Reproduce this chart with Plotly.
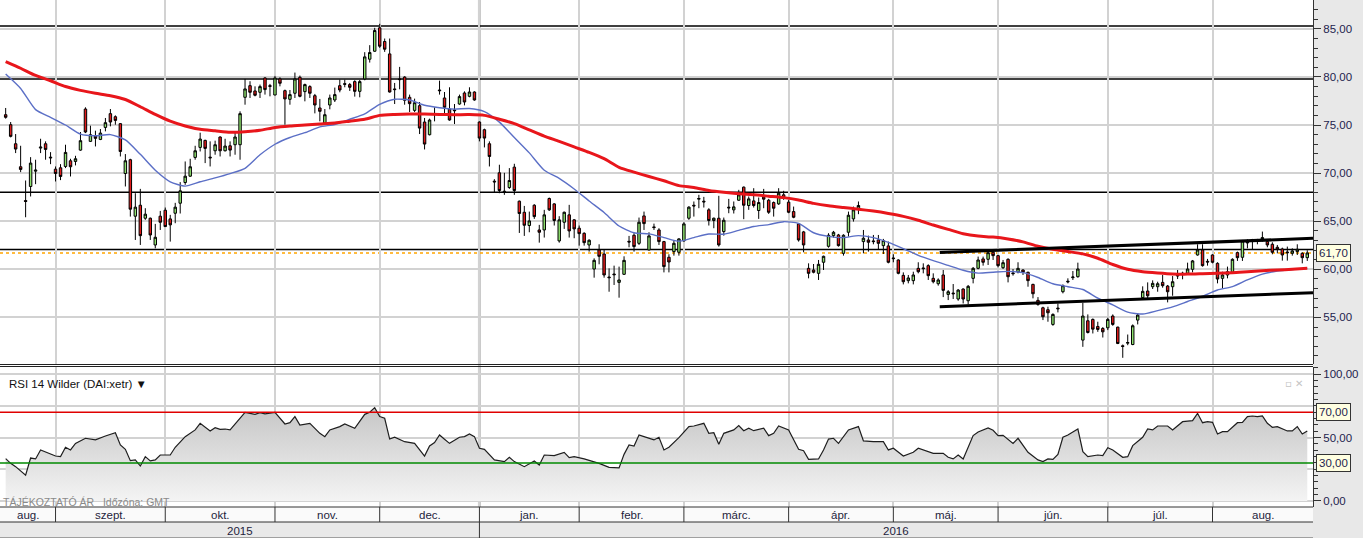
import plotly.graph_objects as go
import pandas as pd

W, H = 1363, 538

# ---------------- data ----------------
holidays = ["2015-12-24", "2015-12-25", "2015-12-31", "2016-01-01",
            "2016-03-25", "2016-03-28", "2016-05-16"]
trading_days = [d for d in pd.bdate_range("2015-08-18", "2016-08-26")
                if d.strftime("%Y-%m-%d") not in holidays]

open_ = [
    76.07, 75.03, 73.05, 70.66, 67.15, 68.61, 70.20, 72.60, 73.05, 71.66,
    70.41, 70.55, 70.69, 71.28, 71.21, 72.39, 76.66, 73.30, 73.85, 73.50,
    74.75, 76.18, 75.86, 75.14, 69.96, 71.39, 65.52, 66.66, 65.31, 65.31,
    62.53, 65.52, 66.14, 65.24, 65.83, 66.87, 69.02, 69.68, 71.63, 72.67,
    73.40, 71.66, 72.32, 73.75, 72.32, 72.84, 72.95, 72.95, 77.88, 79.09,
    78.54, 78.40, 79.89, 79.09, 78.12, 79.79, 78.57, 77.67, 78.30, 79.96,
    78.47, 78.99, 78.05, 76.77, 75.20, 77.08, 77.60, 79.09, 79.30, 79.20,
    79.51, 78.50, 79.79, 81.84, 82.67, 85.10, 83.68, 82.39, 78.75, 79.79,
    79.98, 77.88, 76.52, 77.01, 75.31, 73.99, 76.18, 78.64, 77.81, 76.66,
    76.56, 77.18, 78.33, 77.98, 78.43, 75.31, 74.51, 73.05, 69.16, 70.03,
    68.12, 68.50, 70.62, 67.08, 65.93, 64.55, 66.66, 64.09, 64.09, 67.36,
    66.80, 62.95, 64.89, 65.66, 65.14, 64.27, 63.74, 62.53, 60.03, 62.01,
    61.59, 59.20, 59.51, 58.64, 59.48, 62.91, 63.54, 62.70, 65.55, 62.01,
    64.41, 64.09, 62.88, 61.25, 61.84, 61.77, 62.95, 65.31, 66.66, 67.29,
    67.08, 66.18, 65.07, 65.31, 63.92, 66.46, 66.18, 67.18, 68.54, 66.63,
    67.11, 66.11, 67.50, 67.18, 66.94, 66.80, 67.74, 66.98, 66.00, 64.72,
    63.89, 60.10, 59.93, 59.58, 60.73, 62.39, 63.50, 63.57, 61.66, 63.85,
    65.24, 66.35, 62.88, 63.05, 62.95, 63.05, 62.46, 62.43, 61.18, 60.97,
    59.37, 58.82, 58.82, 60.10, 60.14, 60.38, 59.06, 58.50, 59.41, 57.39,
    57.53, 56.91, 57.95, 56.73, 59.06, 60.10, 61.08, 61.04, 61.77, 61.42,
    60.17, 61.04, 59.62, 59.72, 59.93, 59.69, 58.43, 56.77, 56.00, 55.80,
    54.27, 55.97, 57.67, 58.68, 59.13, 59.23, 52.64, 54.65, 54.79, 54.06,
    53.85, 53.92, 55.14, 53.99, 52.05, 52.32, 52.18, 54.72, 57.05, 57.74,
    58.19, 58.19, 58.64, 58.26, 58.19, 59.30, 59.51, 59.58, 60.00, 61.49,
    62.01, 60.83, 61.49, 60.62, 59.06, 59.41, 59.69, 61.73, 61.25, 62.74,
    63.02, 63.02, 63.05, 62.88, 62.60, 62.29, 62.11, 61.80, 61.66, 61.84,
    61.66, 61.21,
]
high = [
    76.77, 75.31, 74.06, 72.84, 69.23, 71.66, 71.39, 73.57, 73.30, 72.18,
    70.69, 70.93, 72.95, 71.49, 71.80, 74.27, 76.84, 74.93, 74.41, 74.58,
    75.73, 76.66, 76.00, 75.20, 71.98, 71.49, 67.91, 68.36, 66.35, 65.38,
    64.72, 66.07, 66.42, 65.66, 66.91, 69.06, 71.21, 71.49, 72.84, 74.20,
    73.47, 73.30, 73.37, 73.82, 73.57, 73.30, 74.34, 76.42, 79.79, 79.55,
    79.02, 79.20, 79.96, 79.27, 80.10, 79.96, 78.68, 78.64, 80.45, 80.14,
    79.30, 79.13, 78.23, 77.71, 76.66, 78.16, 78.89, 79.72, 79.72, 79.37,
    79.65, 79.68, 82.57, 83.30, 85.10, 85.52, 83.99, 83.99, 79.37, 81.04,
    80.07, 78.16, 77.74, 77.39, 75.73, 75.66, 76.84, 79.61, 78.43, 78.92,
    77.18, 78.16, 78.50, 78.92, 78.50, 75.38, 74.62, 73.30, 69.37, 70.87,
    70.03, 70.52, 70.97, 67.15, 66.59, 66.00, 66.77, 64.62, 66.18, 67.46,
    66.87, 65.52, 66.00, 66.70, 65.21, 64.55, 63.85, 63.12, 61.14, 62.60,
    62.01, 60.10, 60.38, 60.28, 61.35, 63.47, 63.75, 65.38, 66.00, 63.85,
    64.75, 64.27, 62.95, 61.56, 62.98, 63.23, 64.89, 66.56, 67.05, 67.74,
    67.53, 66.35, 65.38, 67.64, 65.38, 67.32, 67.05, 68.26, 68.61, 67.57,
    68.43, 67.46, 68.36, 67.32, 67.05, 68.43, 68.16, 67.22, 66.52, 64.79,
    63.99, 60.62, 60.55, 60.97, 61.42, 63.75, 63.99, 63.68, 63.64, 66.00,
    66.52, 67.05, 64.09, 63.50, 63.57, 63.57, 63.16, 62.88, 61.56, 61.04,
    59.68, 59.41, 59.75, 60.73, 60.62, 60.52, 59.58, 59.06, 59.93, 57.84,
    58.47, 57.95, 58.02, 58.37, 60.24, 61.32, 61.32, 61.84, 61.98, 61.49,
    60.97, 61.14, 60.03, 60.73, 60.00, 59.75, 58.50, 57.11, 56.11, 56.11,
    55.42, 56.45, 58.43, 59.06, 59.82, 60.69, 56.52, 55.31, 54.89, 54.55,
    53.99, 54.96, 55.31, 54.03, 52.18, 53.22, 54.27, 55.45, 58.23, 58.64,
    58.85, 58.71, 59.41, 58.37, 59.30, 59.93, 59.75, 60.69, 60.97, 62.60,
    62.60, 61.08, 61.56, 60.73, 59.75, 60.28, 61.14, 61.84, 63.05, 63.12,
    63.16, 63.16, 63.92, 63.05, 62.81, 62.53, 62.25, 62.36, 62.18, 62.60,
    61.77, 61.98,
]
low = [
    75.66, 73.71, 72.08, 70.10, 65.41, 67.57, 68.85, 72.08, 71.39, 70.93,
    69.13, 69.27, 70.52, 69.65, 70.80, 72.32, 74.16, 73.23, 72.77, 73.43,
    74.34, 74.86, 75.03, 71.73, 68.61, 65.48, 63.05, 62.53, 65.14, 63.05,
    62.18, 64.09, 64.41, 62.88, 64.79, 65.80, 68.78, 69.62, 71.39, 72.25,
    71.04, 70.69, 71.91, 71.73, 72.25, 71.73, 71.91, 71.39, 77.11, 77.81,
    77.98, 77.81, 78.16, 77.98, 78.09, 79.02, 75.03, 77.11, 77.81, 77.88,
    77.46, 77.81, 76.21, 75.38, 75.17, 76.63, 77.39, 78.40, 78.92, 78.54,
    77.95, 77.88, 79.65, 81.49, 82.60, 83.02, 82.60, 78.37, 77.18, 78.71,
    77.11, 76.35, 76.35, 74.06, 72.46, 73.92, 75.38, 78.16, 76.14, 75.45,
    75.10, 77.11, 77.04, 77.88, 77.53, 73.30, 72.67, 70.69, 68.02, 67.91,
    67.74, 68.36, 67.74, 63.78, 63.47, 63.85, 65.24, 62.77, 63.30, 66.07,
    64.55, 62.77, 64.20, 63.30, 63.23, 62.46, 62.46, 61.84, 59.13, 60.52,
    59.13, 57.67, 58.37, 57.05, 59.41, 62.29, 61.84, 62.53, 64.09, 61.98,
    64.09, 62.53, 59.68, 59.68, 61.42, 61.42, 62.88, 65.14, 65.48, 66.35,
    66.42, 64.55, 64.27, 62.36, 63.50, 65.83, 65.80, 67.11, 65.21, 66.18,
    66.42, 65.24, 66.35, 65.76, 65.48, 66.70, 67.22, 65.83, 65.31, 62.88,
    61.77, 59.06, 59.58, 58.89, 59.93, 62.25, 63.30, 62.36, 61.42, 63.40,
    64.96, 65.73, 61.66, 61.84, 62.60, 62.11, 61.59, 60.62, 60.73, 59.48,
    58.43, 58.54, 58.43, 59.58, 59.58, 58.89, 58.54, 58.30, 57.11, 56.80,
    56.91, 56.73, 56.45, 56.35, 58.54, 60.00, 60.38, 60.45, 60.97, 60.21,
    60.03, 58.64, 59.34, 59.58, 59.41, 58.19, 56.98, 56.21, 54.72, 54.55,
    54.13, 55.52, 57.50, 58.54, 58.89, 59.13, 51.94, 53.33, 53.33, 53.50,
    52.91, 53.68, 54.13, 52.22, 50.80, 52.11, 52.11, 54.27, 56.91, 56.91,
    57.95, 57.67, 58.09, 56.56, 57.25, 58.99, 58.96, 59.48, 59.68, 61.42,
    60.28, 60.38, 60.62, 58.54, 58.02, 59.06, 59.58, 60.87, 60.87, 62.18,
    62.11, 62.60, 62.88, 62.29, 61.56, 61.66, 60.90, 60.90, 61.42, 61.49,
    60.62, 60.87,
]
close = [
    75.80, 73.82, 72.50, 70.38, 67.05, 71.04, 70.31, 72.70, 72.46, 71.59,
    69.96, 69.65, 72.15, 70.66, 71.49, 73.37, 74.27, 73.99, 73.61, 74.16,
    75.24, 75.31, 75.48, 72.25, 71.28, 66.25, 66.46, 63.50, 65.73, 63.57,
    63.33, 64.89, 64.44, 64.62, 66.46, 68.16, 69.68, 70.66, 72.32, 73.54,
    72.57, 71.59, 72.95, 72.32, 72.81, 72.39, 73.75, 76.18, 78.75, 78.40,
    78.09, 78.99, 78.68, 79.02, 79.89, 79.34, 77.71, 78.16, 79.79, 77.98,
    79.20, 78.30, 77.08, 76.42, 76.07, 77.81, 78.16, 78.64, 79.23, 78.92,
    78.50, 79.51, 82.08, 82.53, 84.82, 83.19, 82.88, 78.43, 78.68, 79.72,
    77.57, 77.22, 77.32, 74.68, 73.02, 75.52, 76.11, 78.57, 76.84, 75.52,
    76.49, 77.95, 77.39, 78.43, 77.60, 73.64, 73.64, 71.73, 69.09, 68.19,
    68.05, 69.23, 68.19, 65.80, 64.58, 65.03, 65.48, 63.85, 65.66, 66.18,
    65.07, 65.14, 65.93, 63.99, 64.20, 63.71, 62.77, 63.02, 60.93, 61.35,
    59.41, 59.13, 59.44, 58.89, 60.93, 62.84, 62.36, 64.89, 64.75, 63.47,
    64.34, 62.88, 60.28, 60.76, 62.70, 63.16, 64.72, 66.46, 66.59, 67.36,
    67.01, 65.07, 65.31, 62.53, 65.10, 66.39, 66.49, 67.74, 66.66, 67.32,
    66.63, 66.94, 67.29, 65.93, 66.35, 67.91, 67.40, 65.93, 65.41, 63.05,
    62.53, 59.58, 59.69, 60.52, 61.35, 63.54, 63.85, 62.46, 63.54, 65.62,
    66.18, 66.63, 63.23, 62.81, 62.88, 62.70, 62.98, 60.73, 61.11, 59.58,
    58.71, 59.10, 59.41, 59.75, 60.07, 59.34, 58.71, 58.89, 57.81, 57.67,
    57.46, 57.84, 56.91, 58.23, 60.10, 60.97, 60.73, 61.73, 61.42, 60.38,
    60.69, 59.23, 59.55, 60.10, 59.69, 58.82, 57.46, 56.35, 55.07, 55.48,
    55.31, 55.90, 58.30, 58.75, 59.20, 60.03, 55.14, 53.43, 53.78, 53.75,
    53.50, 54.79, 54.27, 52.29, 51.98, 52.39, 54.13, 55.24, 57.71, 57.25,
    58.54, 58.50, 58.30, 57.67, 58.71, 59.37, 59.58, 60.03, 60.87, 62.01,
    60.38, 60.76, 60.73, 58.99, 59.41, 59.75, 61.04, 61.21, 62.95, 62.81,
    63.09, 63.09, 63.30, 62.53, 61.77, 62.08, 61.49, 61.73, 61.91, 62.08,
    61.21, 61.70,
]

# moving averages: (trading day number, value)
ma_slow = [
    (1, 81.6), (4, 80.9), (7, 80.15), (10, 79.6), (13, 79.0), (16, 78.6), (19, 78.3), (22, 78.05),
    (25, 77.65), (28, 76.9), (31, 76.1), (34, 75.4), (37, 74.9), (40, 74.55), (43, 74.4), (46, 74.25),
    (49, 74.3), (52, 74.45), (55, 74.75), (58, 74.9), (61, 75.0), (64, 75.1), (67, 75.2), (70, 75.4),
    (73, 75.6), (76, 76.0), (79, 76.1), (82, 76.15), (85, 76.15), (88, 76.1), (91, 76.07), (94, 76.08),
    (97, 76.0), (100, 75.6), (103, 75.15), (106, 74.5), (109, 73.85), (112, 73.3), (115, 72.72), (118, 72.15),
    (121, 71.5), (124, 70.6), (127, 70.1), (130, 69.65), (133, 69.2), (136, 68.7), (139, 68.5), (142, 68.2),
    (145, 68.0), (148, 67.85), (151, 67.75), (154, 67.6), (157, 67.45), (160, 67.2), (163, 66.85), (166, 66.6),
    (169, 66.42), (172, 66.25), (175, 66.05), (178, 65.8), (181, 65.5), (184, 65.1), (187, 64.6), (190, 64.15),
    (193, 63.7), (196, 63.45), (199, 63.35), (202, 63.15), (205, 62.85), (208, 62.4), (211, 62.08), (214, 61.85),
    (217, 61.6), (220, 61.15), (223, 60.5), (226, 60.0), (229, 59.75), (232, 59.62), (235, 59.52), (238, 59.5),
    (241, 59.55), (244, 59.6), (247, 59.65), (250, 59.75), (253, 59.85), (256, 59.93), (259, 60.0), (262, 60.1),
]
ma_fast = [
    (1, 80.3), (4, 78.8), (7, 76.6), (10, 75.8), (13, 75.0), (16, 74.05), (19, 73.88), (22, 74.0),
    (25, 73.45), (28, 71.95), (31, 70.3), (34, 69.1), (37, 68.65), (40, 69.1), (43, 69.5), (46, 69.95),
    (49, 70.5), (52, 71.9), (55, 73.0), (58, 73.7), (61, 74.2), (64, 74.8), (67, 75.05), (70, 75.6),
    (73, 76.15), (76, 77.15), (79, 77.68), (82, 77.6), (85, 77.05), (88, 76.8), (91, 76.65), (94, 76.72),
    (97, 76.4), (100, 75.3), (103, 73.7), (106, 72.1), (109, 70.3), (112, 69.45), (115, 68.35), (118, 67.1),
    (121, 65.9), (124, 64.5), (127, 63.8), (130, 63.68), (133, 63.3), (136, 62.92), (139, 63.3), (142, 63.67),
    (145, 63.65), (148, 64.05), (151, 64.45), (154, 64.65), (157, 64.95), (160, 64.78), (163, 63.8), (166, 63.42),
    (169, 63.3), (172, 63.5), (175, 63.3), (178, 62.8), (181, 62.15), (184, 61.45), (187, 60.9), (190, 60.4),
    (193, 59.9), (196, 59.6), (199, 59.7), (202, 59.78), (205, 59.65), (208, 59.15), (211, 58.5), (214, 58.19),
    (217, 57.9), (220, 57.0), (223, 56.3), (226, 55.55), (229, 55.35), (232, 55.7), (235, 56.1), (238, 56.65),
    (241, 57.2), (244, 57.85), (247, 58.2), (250, 58.9), (253, 59.5), (256, 59.82), (259, 59.98), (262, 60.1),
]

# RSI 14 Wilder: (trading day number, value)
rsi_14 = [
    (1, 33.4), (2, 29.7), (3, 27.1), (5, 20.3), (6, 33.9), (7, 33.2), (8, 40.3), (9, 38.9), (11, 35.5),
    (12, 35.0), (13, 42.4), (14, 40.3), (15, 45.5), (17, 49.5), (18, 48.9), (19, 48.2), (21, 51.3),
    (23, 53.9), (24, 44.2), (25, 40.8), (26, 31.8), (27, 32.4), (28, 27.6), (29, 35.0), (30, 31.6),
    (31, 32.4), (32, 36.3), (34, 36.3), (35, 42.4), (37, 50.8), (39, 56.1), (40, 61.3), (42, 55.3),
    (43, 57.9), (44, 56.6), (45, 56.8), (46, 56.1), (49, 70.0), (51, 68.4), (52, 69.7), (53, 68.7),
    (55, 70.0), (57, 60.8), (58, 61.8), (59, 66.6), (60, 60.0), (62, 61.3), (64, 53.4), (65, 50.8),
    (66, 56.1), (68, 58.7), (69, 60.8), (71, 57.4), (73, 68.4), (74, 70.0), (75, 73.7), (76, 66.6),
    (77, 65.3), (78, 48.9), (79, 50.3), (81, 46.8), (82, 46.1), (83, 45.5), (85, 35.5), (86, 43.4),
    (87, 46.1), (88, 52.1), (89, 48.7), (90, 45.5), (92, 50.3), (93, 50.8), (94, 52.9), (95, 50.8),
    (96, 41.6), (97, 40.8), (99, 32.4), (101, 31.1), (102, 34.5), (103, 31.1), (105, 27.1), (107, 31.6),
    (108, 28.4), (109, 36.3), (111, 35.8), (113, 38.4), (114, 34.2), (115, 35.0), (117, 33.2), (119, 31.1),
    (120, 29.7), (122, 26.6), (124, 26.1), (125, 36.8), (126, 44.2), (127, 43.4), (128, 52.1), (129, 50.8),
    (131, 48.2), (132, 50.3), (133, 40.3), (134, 42.4), (136, 50.0), (138, 58.7), (139, 59.2), (141, 61.3),
    (142, 53.4), (143, 53.9), (144, 44.7), (145, 53.4), (147, 56.1), (148, 59.5), (149, 55.5), (150, 57.4),
    (151, 55.5), (153, 57.4), (154, 51.6), (155, 53.4), (156, 59.2), (158, 56.1), (159, 48.9), (160, 40.8),
    (161, 39.7), (162, 32.9), (164, 33.2), (165, 40.3), (166, 48.9), (167, 49.5), (168, 45.5), (170, 56.1),
    (172, 58.7), (173, 47.4), (175, 46.8), (177, 46.8), (178, 40.3), (179, 41.6), (181, 35.5), (183, 38.4),
    (184, 41.6), (187, 37.6), (189, 37.6), (190, 34.5), (191, 33.2), (192, 36.3), (193, 33.2), (195, 51.6),
    (196, 54.5), (198, 57.6), (199, 55.8), (200, 51.6), (201, 51.8), (203, 45.5), (204, 49.5), (205, 44.2),
    (206, 38.4), (208, 32.4), (209, 31.1), (210, 33.2), (211, 32.9), (212, 36.8), (213, 50.3), (214, 52.1),
    (216, 56.8), (217, 38.9), (218, 35.0), (220, 36.3), (221, 35.8), (222, 42.1), (223, 40.3), (225, 34.5),
    (226, 35.0), (227, 43.7), (229, 50.3), (230, 56.8), (231, 56.1), (232, 59.2), (234, 59.2), (235, 56.1),
    (236, 59.5), (237, 62.6), (239, 63.4), (240, 69.2), (241, 61.8), (242, 62.6), (243, 62.1), (244, 52.9),
    (245, 54.7), (246, 54.7), (248, 61.8), (249, 62.1), (250, 66.6), (251, 67.1), (252, 66.6), (253, 67.1),
    (254, 61.3), (255, 58.2), (256, 58.7), (258, 55.3), (259, 55.3), (260, 58.7), (261, 52.9), (262, 55.3),
]

levels = [85.28, 79.79, 68.02, 62.05]          # drawn horizontal levels
channel_days = [188.3, 263.15]                  # trend channel start / end (trading day no.)
channel_upper = [61.75, 63.22]
channel_lower = [56.12, 57.57]
rsi_bands = [70, 30]
rsi_ticks = [0, 25, 50, 75, 100]

month_labels = {1: "jan.", 2: "febr.", 3: "márc.", 4: "ápr.", 5: "máj.", 6: "jún.",
                7: "júl.", 8: "aug.", 9: "szept.", 10: "okt.", 11: "nov.", 12: "dec."}

# ---------------- geometry ----------------
n = min(len(open_), len(high), len(low), len(close), len(trading_days))
days = list(range(1, n + 1))
PLOT_R = 1313


def px(p):
    return p / W


def py(p):
    return 1 - p / H


x_range = [-0.137, 263.15]
price_range = [50.156, 87.994]
rsi_range = [-4.74, 105.76]

month_start = []
month_name = []
year_start = []
prev_m, prev_y = None, None
for d, t in zip(days, trading_days[:n]):
    if (t.year, t.month) != prev_m:
        month_start.append(d)
        month_name.append(month_labels[t.month])
        prev_m = (t.year, t.month)
    if t.year != prev_y:
        year_start.append((d, str(t.year)))
        prev_y = t.year
boundaries = month_start[1:]
edges = [x_range[0]] + boundaries + [x_range[1]]
year_edges = [x_range[0]] + [d for d, _ in year_start[1:]] + [x_range[1]]


def fmt(v):
    return f"{v:.2f}".replace(".", ",")


# ---------------- traces ----------------
fig = go.Figure()

fig.add_trace(go.Scatter(
    x=[d for d, _ in rsi_14], y=[v for _, v in rsi_14], xaxis="x2", yaxis="y2",
    mode="lines", line=dict(color="#1e1e1e", width=1.2), fill="tozeroy",
    fillgradient=dict(type="vertical", colorscale=[[0, "#f4f4f4"], [1, "#c2c2c2"]], start=0, stop=80),
    hoverinfo="skip", showlegend=False))

fig.add_trace(go.Scatter(
    x=[d for d, _ in ma_fast], y=[v for _, v in ma_fast], mode="lines",
    line=dict(color="#5b6fc6", width=1.4, shape="spline", smoothing=0.6),
    hoverinfo="skip", showlegend=False))
fig.add_trace(go.Scatter(
    x=[d for d, _ in ma_slow], y=[v for _, v in ma_slow], mode="lines",
    line=dict(color="#e8161b", width=3, shape="spline", smoothing=0.6),
    hoverinfo="skip", showlegend=False))

fig.add_trace(go.Candlestick(
    x=days, open=open_[:n], high=high[:n], low=low[:n], close=close[:n],
    increasing=dict(fillcolor="#8fe36f", line=dict(color="#000000", width=1)),
    decreasing=dict(fillcolor="#e11b1b", line=dict(color="#000000", width=1)),
    whiskerwidth=0, hoverinfo="skip", showlegend=False))

# ---------------- shapes ----------------
shapes = []
shapes.append(dict(type="rect", xref="paper", yref="paper", x0=px(PLOT_R), x1=1, y0=0, y1=1,
                   fillcolor="#e8e8e8", line=dict(width=0), layer="below"))
for d, _ in year_start[1:]:
    shapes.append(dict(type="line", xref="x", yref="paper", x0=d, x1=d, y0=py(507), y1=1,
                       line=dict(color="#c6c6c6", width=3), layer="below"))
for lv in levels:
    shapes.append(dict(type="line", xref="paper", yref="y", x0=0, x1=px(PLOT_R), y0=lv, y1=lv,
                       line=dict(color="#000000", width=1.5), layer="between"))
shapes.append(dict(type="line", xref="paper", yref="y", x0=0, x1=px(PLOT_R), y0=close[n - 1], y1=close[n - 1],
                   line=dict(color="#ffa500", width=1.5, dash="dot"), layer="between"))
for ch in (channel_upper, channel_lower):
    shapes.append(dict(type="line", xref="x", yref="y", x0=channel_days[0], x1=channel_days[1],
                       y0=ch[0], y1=ch[1], line=dict(color="#000000", width=3), layer="above"))
for b, col in zip(rsi_bands, ["#e00000", "#008a00"]):
    shapes.append(dict(type="line", xref="paper", yref="y2", x0=0, x1=px(PLOT_R), y0=b, y1=b,
                       line=dict(color=col, width=1.5), layer="above"))
for yy in (364.5, 366.5):
    shapes.append(dict(type="line", xref="paper", yref="paper", x0=0, x1=px(PLOT_R), y0=py(yy), y1=py(yy),
                       line=dict(color="#222222", width=1)))
shapes.append(dict(type="rect", xref="paper", yref="paper", x0=0, x1=px(PLOT_R), y0=py(522), y1=py(507),
                   fillcolor="#fafafa", line=dict(width=0), layer="below"))
shapes.append(dict(type="rect", xref="paper", yref="paper", x0=0, x1=px(PLOT_R), y0=0, y1=py(522),
                   fillcolor="#e9e9e9", line=dict(width=0), layer="below"))
for yy, col in ((507, "#333333"), (522, "#333333"), (537.5, "#a0a0a0")):
    shapes.append(dict(type="line", xref="paper", yref="paper", x0=0, x1=px(PLOT_R), y0=py(yy), y1=py(yy),
                       line=dict(color=col, width=1)))
for b in boundaries:
    shapes.append(dict(type="line", xref="x", yref="paper", x0=b, x1=b, y0=py(522), y1=py(507),
                       line=dict(color="#333333", width=1)))
for d, _ in year_start[1:]:
    shapes.append(dict(type="line", xref="x", yref="paper", x0=d, x1=d, y0=py(538), y1=py(522),
                       line=dict(color="#333333", width=1)))

# ---------------- annotations ----------------
ann = []
lab_font = dict(family="Liberation Sans", size=11.5, color="#1e1e3c")
for k, name in enumerate(month_name):
    ann.append(dict(xref="x", yref="paper", x=(edges[k] + edges[k + 1]) / 2, y=py(515),
                    xanchor="center", yanchor="middle", text=name, showarrow=False, font=lab_font))
for k, (_, yname) in enumerate(year_start):
    ann.append(dict(xref="x", yref="paper", x=(year_edges[k] + year_edges[k + 1]) / 2, y=py(530.5),
                    xanchor="center", yanchor="middle", text=yname, showarrow=False, font=lab_font))
ann.append(dict(xref="paper", yref="paper", x=px(7), y=py(383.5), xanchor="left", yanchor="middle",
                text="RSI 14 Wilder (DAI:xetr) \u25BC", showarrow=False,
                font=dict(family="Liberation Sans", size=11.5, color="#111111")))
ann.append(dict(xref="paper", yref="paper", x=px(1), y=py(501.5), xanchor="left", yanchor="middle",
                text="TÁJÉKOZTATÓ ÁR&nbsp;&nbsp;&nbsp;Időzóna: GMT", showarrow=False,
                font=dict(family="Liberation Sans", size=10.5, color="#8a8a8a")))
ann.append(dict(xref="paper", yref="paper", x=px(1283), y=py(383.5), xanchor="left", yanchor="middle",
                text="\u25AB \u2715", showarrow=False,
                font=dict(family="DejaVu Sans", size=10, color="#c4c4c4")))
box = dict(showarrow=False, xref="paper", x=px(1316), xanchor="left", yanchor="middle", bgcolor="#ffffe1",
           bordercolor="#333333", borderwidth=1, borderpad=2,
           font=dict(family="Liberation Sans", size=11.5, color="#1e1e4e"))
ann.append(dict(box, yref="y", y=close[n - 1], text=fmt(close[n - 1])))
for b in rsi_bands:
    ann.append(dict(box, yref="y2", y=b, text=fmt(b)))

# ---------------- layout ----------------
xcommon = dict(range=x_range, tickvals=boundaries, showticklabels=False, ticks="",
               showgrid=True, gridcolor="#d2d2d2", gridwidth=1.5, zeroline=False,
               rangeslider=dict(visible=False), fixedrange=True, domain=[0, px(PLOT_R)])
ycommon = dict(side="right", tickformat=".2f", ticks="outside", ticklen=7, tickcolor="#333333",
               showline=True, linecolor="#333333", linewidth=1, showgrid=True,
               gridcolor="#d2d2d2", gridwidth=1.5, zeroline=False, fixedrange=True,
               tickfont=dict(family="Liberation Sans", size=11.5, color="#1e1e4e"))

# RSI labels at 75 / 25 sit behind the 70 / 30 value boxes, so they are left blank
rsi_ticktext = [fmt(t) if all(abs(t - b) > 6 for b in rsi_bands) else "" for t in rsi_ticks]

fig.update_layout(
    width=W, height=H, margin=dict(l=0, r=0, t=0, b=0),
    paper_bgcolor="white", plot_bgcolor="white", separators=", ", showlegend=False,
    xaxis=dict(xcommon, anchor="y"),
    xaxis2=dict(xcommon, anchor="y2", matches="x"),
    yaxis=dict(ycommon, domain=[py(364), 1], range=price_range, anchor="x", dtick=5, tick0=0,
               minor=dict(dtick=1, ticks="outside", ticklen=4, tickcolor="#333333", showgrid=False)),
    yaxis2=dict(ycommon, domain=[py(507), py(367)], range=rsi_range, anchor="x2",
                tickmode="array", tickvals=rsi_ticks, ticktext=rsi_ticktext,
                minor=dict(dtick=5, ticks="outside", ticklen=4, tickcolor="#333333", showgrid=False)),
    shapes=shapes, annotations=ann,
)

fig.write_html("out.html")
